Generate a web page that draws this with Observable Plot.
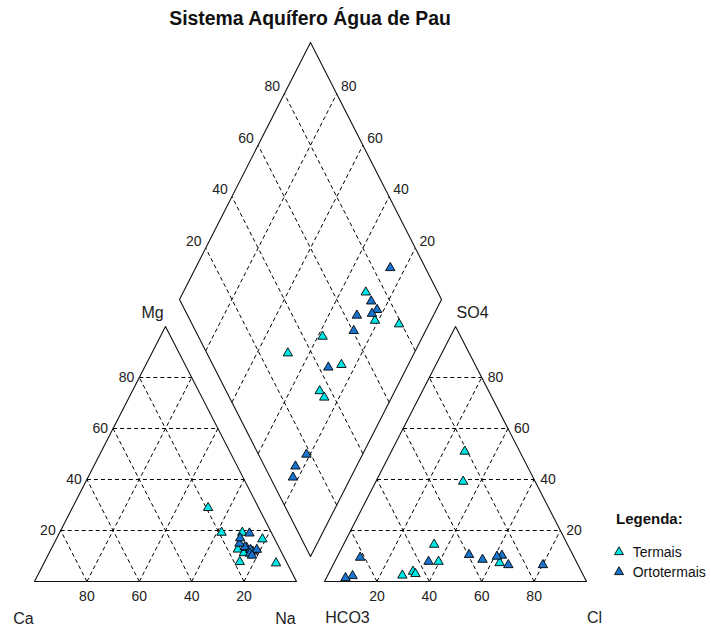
<!DOCTYPE html>
<html><head><meta charset="utf-8">
<script src="https://cdn.jsdelivr.net/npm/d3@7"></script>
<script src="https://cdn.jsdelivr.net/npm/@observablehq/plot@0.6"></script>
<style>
body{margin:0;background:#fff;font-family:"Liberation Sans",Arial,sans-serif;}
#wrap{position:relative;width:711px;height:631px;overflow:hidden;background:#fff;}
#title{width:620px;height:34px;line-height:36px;text-align:center;font-weight:bold;font-size:19.4px;color:#111;white-space:nowrap;}
.lg{position:absolute;white-space:nowrap;color:#111;}
</style></head><body>
<div id="wrap">
<div id="title">Sistema Aquífero Água de Pau</div>
<div id="chart"></div>
<div id="legend"></div>
</div>
<script>
// ---- data (percent of meq) ----
const sampleGroup = ["Termais","Termais","Termais","Termais","Termais","Termais","Termais","Termais",
  "Ortotermais","Ortotermais","Ortotermais","Ortotermais","Ortotermais","Ortotermais","Ortotermais","Ortotermais","Ortotermais","Ortotermais"];
const ca   = [19.3, 19.0, 11.1,  4.7, 16.1, 14.5, 17.8,  4.2, 12.4, 13.0, 10.8, 14.3, 11.3,  8.5, 13.0,  8.9, 12.3, 11.9];
const mg   = [28.9, 19.2, 19.2, 16.6, 12.6, 11.2,  7.7,  7.2, 13.3, 13.5, 11.8, 14.9, 12.5, 18.9, 17.0, 12.5, 11.0, 10.2];
const na   = [51.8, 61.8, 69.7, 78.7, 71.3, 74.3, 74.5, 88.6, 74.3, 73.5, 77.4, 70.8, 76.2, 72.6, 70.0, 78.6, 76.7, 77.9];
const hco3 = [69.1, 52.6, 27.5, 29.5, 64.3, 63.8, 50.9, 21.0, 13.4, 27.2, 26.6, 35.4, 29.3, 39.6, 56.4, 81.7, 88.2, 91.3];
const so4  = [ 2.4,  7.8, 39.2,  7.3,  3.9,  3.0, 14.5, 51.0,  6.5, 10.2,  6.5,  8.6,  9.8, 10.5,  7.8,  9.4,  2.2,  1.4];
const cl   = [28.5, 39.6, 33.3, 63.2, 31.8, 33.2, 34.6, 28.0, 80.1, 62.6, 66.9, 56.0, 60.9, 49.9, 35.8,  8.9,  9.6,  7.3];
const gridValues = [20, 40, 60, 80];
const groupNames = ["Termais", "Ortotermais"];
const groupColors = ["#00E5E5", "#1874CD"];
const cationNames = ["Ca", "Mg", "Na"];
const anionNames = ["HCO3", "SO4", "Cl"];

// ---- geometry (unit = triangle side / height) ----
const GAP = 0.107, DB = 0.098, DH = 1.008;
const cation = (c, m, n) => ({u: (n + m / 2) / 100, v: m / 100});
const anion = (h, s, c) => ({u: 1 + GAP + (c + s / 2) / 100, v: s / 100});
const diamond = (a, c) => ({u: 1 + GAP / 2 + 0.5 * (a - c), v: DB + DH * (a + c)});

// outlines
const outline = [];
const addPoly = (name, pts) => pts.forEach((p, i) => outline.push({shape: name, i, ...p}));
addPoly("left", [cation(100,0,0), cation(0,0,100), cation(0,100,0), cation(100,0,0)]);
addPoly("right", [anion(100,0,0), anion(0,0,100), anion(0,100,0), anion(100,0,0)]);
addPoly("diamond", [diamond(0,0), diamond(1,0), diamond(1,1), diamond(0,1), diamond(0,0)]);

// grid
const grid = [];
const seg = (p, q) => grid.push({x1: p.u, y1: p.v, x2: q.u, y2: q.v});
for (const k of gridValues) {
  seg(cation(100-k, k, 0), cation(0, k, 100-k));
  seg(cation(k, 0, 100-k), cation(k, 100-k, 0));
  seg(cation(100-k, 0, k), cation(0, 100-k, k));
  seg(anion(100-k, k, 0), anion(0, k, 100-k));
  seg(anion(k, 0, 100-k), anion(k, 100-k, 0));
  seg(anion(100-k, 0, k), anion(0, 100-k, k));
  seg(diamond(k/100, 0), diamond(k/100, 1));
  seg(diamond(0, k/100), diamond(1, k/100));
}

// tick labels
const ticks = [];
for (const k of gridValues) {
  ticks.push({...cation(k, 0, 100-k), label: k, pos: "base"});
  ticks.push({...cation(100-k, k, 0), label: k, pos: "leftEdge"});
  ticks.push({...anion(100-k, 0, k), label: k, pos: "base"});
  ticks.push({...anion(0, k, 100-k), label: k, pos: "rightEdge"});
  ticks.push({...diamond(k/100, 1), label: k, pos: "dLeft"});
  ticks.push({...diamond(1, k/100), label: k, pos: "dRight"});
}

// corner names
const names = [
  {...cation(0,100,0), label: cationNames[1], dx: -13, dy: -14},
  {...cation(100,0,0), label: cationNames[0], dx: -11, dy: 37},
  {...cation(0,0,100), label: cationNames[2], dx: -11, dy: 37},
  {...anion(0,100,0), label: anionNames[1], dx: 17, dy: -14},
  {...anion(100,0,0), label: anionNames[0], dx: 23, dy: 36},
  {...anion(0,0,100), label: anionNames[2], dx: 8, dy: 36}
];

// points
const points = [];
sampleGroup.forEach((g, i) => {
  const L = cation(ca[i], mg[i], na[i]);
  const R = anion(hco3[i], so4[i], cl[i]);
  const D = diamond((so4[i] + cl[i]) / 100, (ca[i] + mg[i]) / 100);
  for (const p of [L, R, D]) points.push({...p, group: g});
});

const font = '"Liberation Sans", Arial, sans-serif';
const txt = (pos, opts) => Plot.text(ticks.filter(d => d.pos === pos), {x: "u", y: "v", text: "label", fontSize: 14, fill: "#222", ...opts});

const chart = Plot.plot({
  width: 711, height: 597, margin: 0,
  x: {domain: [0, 1], range: [34, 296], axis: null},
  y: {domain: [0, 1], range: [547, 292], axis: null},
  color: {domain: groupNames, range: groupColors},
  style: {fontFamily: font, background: "white", overflow: "visible"},
  marks: [
    Plot.link(grid, {x1: "x1", y1: "y1", x2: "x2", y2: "y2", stroke: "#000", strokeWidth: 1, strokeDasharray: "4,3"}),
    Plot.line(outline, {x: "u", y: "v", z: "shape", stroke: "#111", strokeWidth: 1.1}),
    txt("base", {dy: 15}),
    txt("leftEdge", {dx: -5, textAnchor: "end"}),
    txt("rightEdge", {dx: 6, textAnchor: "start"}),
    txt("dLeft", {dx: -12, dy: -7}),
    txt("dRight", {dx: 12, dy: -7}),
    ...names.map(n => Plot.text([n], {x: "u", y: "v", text: "label", dx: n.dx, dy: n.dy, fontSize: 16, fill: "#222"})),
    Plot.dot(points, {x: "u", y: "v", symbol: "triangle", r: 3.5, fill: "group", stroke: "#000", strokeWidth: 0.9})
  ]
});
document.getElementById("chart").appendChild(chart);

// legend (HTML)
const lg = document.getElementById("legend");
const head = document.createElement("div");
head.className = "lg";
head.style.cssText = "left:616px;top:510.6px;font-size:15px;line-height:15px;font-weight:bold;";
head.textContent = "Legenda:";
lg.appendChild(head);
groupNames.forEach((name, i) => {
  const cy = 551.7 + i * 20;
  const s = document.createElementNS("http://www.w3.org/2000/svg", "svg");
  s.setAttribute("width", 12); s.setAttribute("height", 12);
  s.style.cssText = `position:absolute;left:613.3px;top:${cy - 6}px;`;
  s.innerHTML = `<polygon points="6,0.8 10.5,8.6 1.5,8.6" fill="${groupColors[i]}" stroke="#000" stroke-width="0.9"/>`;
  lg.appendChild(s);
  const t = document.createElement("div");
  t.className = "lg";
  t.style.cssText = `left:632.7px;top:${cy - 6.9}px;font-size:14px;line-height:14px;`;
  t.textContent = name;
  lg.appendChild(t);
});
</script>
</body></html>
